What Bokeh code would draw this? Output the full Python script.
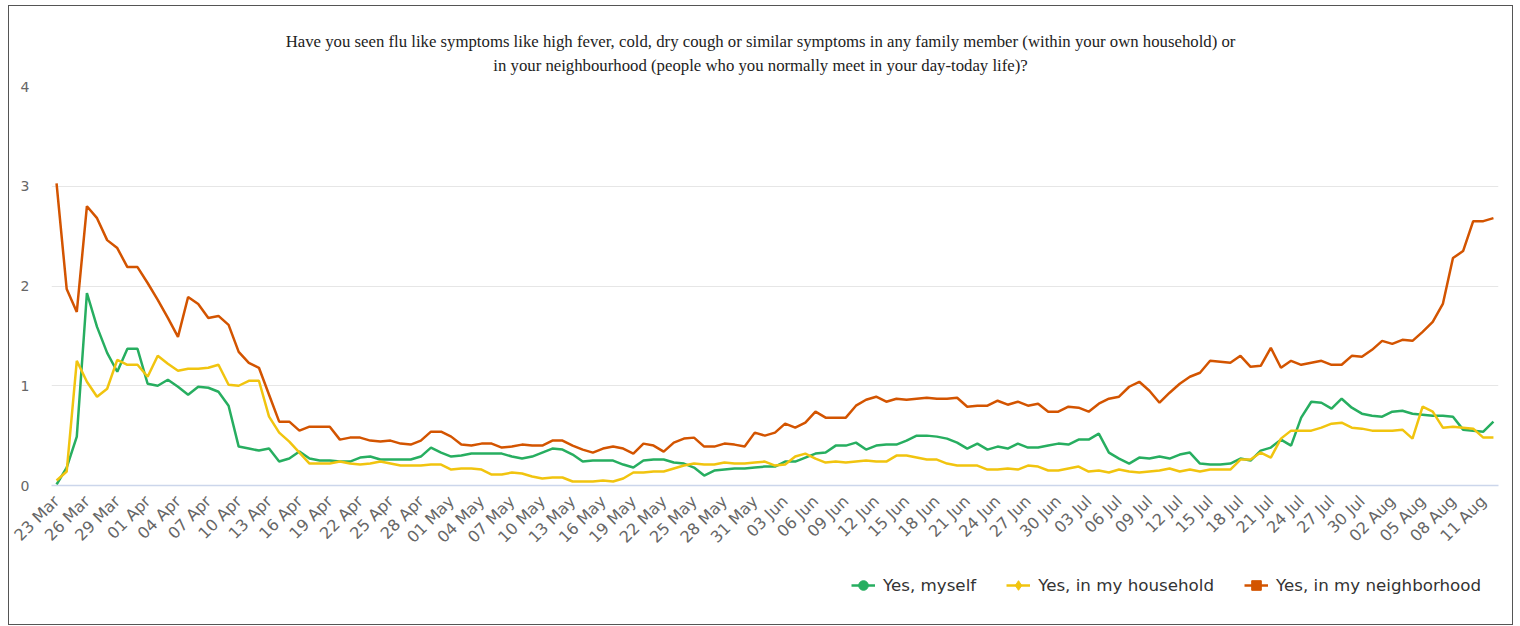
import math
import pandas as pd
from bokeh.plotting import figure
from bokeh.layouts import column
from bokeh.models import Range1d, FixedTicker, Legend, LegendItem, Label
from bokeh.embed import file_html
from bokeh.resources import INLINE

# ---- data -------------------------------------------------------------
dates = pd.date_range("2020-03-23", "2020-08-12", freq="D")
categories = [d.strftime("%d %b") for d in dates]

myself = [
    0.01, 0.18, 0.49, 1.93, 1.59, 1.33, 1.14, 1.37, 1.37, 1.02,
    1.00, 1.06, 0.99, 0.91, 0.99, 0.98, 0.94, 0.80, 0.39, 0.37,
    0.35, 0.37, 0.24, 0.27, 0.34, 0.27, 0.25, 0.25, 0.24, 0.24,
    0.28, 0.29, 0.26, 0.26, 0.26, 0.26, 0.29, 0.38, 0.33, 0.29,
    0.30, 0.32, 0.32, 0.32, 0.32, 0.29, 0.27, 0.29, 0.33, 0.37,
    0.36, 0.31, 0.24, 0.25, 0.25, 0.25, 0.21, 0.18, 0.25, 0.26,
    0.26, 0.23, 0.22, 0.18, 0.10, 0.15, 0.16, 0.17, 0.17, 0.18,
    0.19, 0.19, 0.24, 0.24, 0.28, 0.32, 0.33, 0.40, 0.40, 0.43,
    0.36, 0.40, 0.41, 0.41, 0.45, 0.50, 0.50, 0.49, 0.47, 0.43,
    0.37, 0.42, 0.36, 0.39, 0.37, 0.42, 0.38, 0.38, 0.40, 0.42,
    0.41, 0.46, 0.46, 0.52, 0.33, 0.27, 0.22, 0.28, 0.27, 0.29,
    0.27, 0.31, 0.33, 0.22, 0.21, 0.21, 0.22, 0.27, 0.25, 0.35,
    0.38, 0.46, 0.40, 0.68, 0.84, 0.83, 0.77, 0.87, 0.78, 0.72,
    0.70, 0.69, 0.74, 0.75, 0.72, 0.71, 0.70, 0.70, 0.69, 0.56,
    0.55, 0.54, 0.64,
]

household = [
    0.05, 0.14, 1.25, 1.04, 0.89, 0.97, 1.26, 1.21, 1.21, 1.09,
    1.30, 1.22, 1.15, 1.17, 1.17, 1.18, 1.21, 1.01, 1.00, 1.05,
    1.05, 0.69, 0.53, 0.44, 0.33, 0.22, 0.22, 0.22, 0.24, 0.22,
    0.21, 0.22, 0.24, 0.22, 0.20, 0.20, 0.20, 0.21, 0.21, 0.16,
    0.17, 0.17, 0.16, 0.11, 0.11, 0.13, 0.12, 0.09, 0.07, 0.08,
    0.08, 0.04, 0.04, 0.04, 0.05, 0.04, 0.07, 0.13, 0.13, 0.14,
    0.14, 0.17, 0.20, 0.22, 0.21, 0.21, 0.23, 0.22, 0.22, 0.23,
    0.24, 0.20, 0.21, 0.29, 0.32, 0.27, 0.23, 0.24, 0.23, 0.24,
    0.25, 0.24, 0.24, 0.30, 0.30, 0.28, 0.26, 0.26, 0.22, 0.20,
    0.20, 0.20, 0.16, 0.16, 0.17, 0.16, 0.20, 0.19, 0.15, 0.15,
    0.17, 0.19, 0.14, 0.15, 0.13, 0.16, 0.14, 0.13, 0.14, 0.15,
    0.17, 0.14, 0.16, 0.14, 0.16, 0.16, 0.16, 0.26, 0.26, 0.33,
    0.28, 0.47, 0.55, 0.55, 0.55, 0.58, 0.62, 0.63, 0.58, 0.57,
    0.55, 0.55, 0.55, 0.56, 0.47, 0.79, 0.74, 0.58, 0.59, 0.58,
    0.57, 0.48, 0.48,
]

neighborhood = [
    3.03, 1.97, 1.74, 2.80, 2.68, 2.46, 2.38, 2.19, 2.19, 2.03,
    1.86, 1.68, 1.49, 1.89, 1.82, 1.68, 1.70, 1.61, 1.34, 1.23,
    1.18, 0.91, 0.64, 0.64, 0.55, 0.59, 0.59, 0.59, 0.46, 0.48,
    0.48, 0.45, 0.44, 0.45, 0.42, 0.41, 0.45, 0.54, 0.54, 0.49,
    0.41, 0.40, 0.42, 0.42, 0.38, 0.39, 0.41, 0.40, 0.40, 0.45,
    0.45, 0.40, 0.36, 0.33, 0.37, 0.39, 0.37, 0.32, 0.42, 0.40,
    0.34, 0.43, 0.47, 0.48, 0.39, 0.39, 0.42, 0.41, 0.39, 0.53,
    0.50, 0.53, 0.62, 0.58, 0.63, 0.74, 0.68, 0.68, 0.68, 0.80,
    0.86, 0.89, 0.84, 0.87, 0.86, 0.87, 0.88, 0.87, 0.87, 0.88,
    0.79, 0.80, 0.80, 0.85, 0.81, 0.84, 0.80, 0.82, 0.74, 0.74,
    0.79, 0.78, 0.74, 0.82, 0.87, 0.89, 0.99, 1.04, 0.95, 0.83,
    0.93, 1.02, 1.09, 1.13, 1.25, 1.24, 1.23, 1.30, 1.19, 1.20,
    1.38, 1.18, 1.25, 1.21, 1.23, 1.25, 1.21, 1.21, 1.30, 1.29,
    1.36, 1.45, 1.42, 1.46, 1.45, 1.54, 1.64, 1.82, 2.28, 2.35,
    2.65, 2.65, 2.68,
]

series_names = ["Yes, myself", "Yes, in my household", "Yes, in my neighborhood"]
y_ticks = [0, 1, 2, 3, 4]
tick_idx = list(range(0, len(categories), 3))
tick_labels = {i: categories[i] for i in tick_idx}

title_lines = [
    "Have you seen flu like symptoms like high fever, cold, dry cough or similar symptoms "
    "in any family member (within your own household) or",
    "in your neighbourhood (people who you normally meet in your day-today life)?",
]

colors = ["#27ae60", "#f1c40f", "#d35400"]
markers = ["circle", "diamond", "square"]
all_series = [myself, household, neighborhood]

W = 1503
x = list(range(len(categories)))


def strip(height):
    f = figure(width=W, height=height, output_backend="svg", toolbar_location=None,
               x_axis_location=None, y_axis_location=None, min_border=0,
               x_range=Range1d(0, 1), y_range=Range1d(0, 1))
    f.outline_line_color = None
    f.grid.visible = False
    f.background_fill_color = "white"
    f.border_fill_color = "white"
    return f


# ---- title strip (centred on the whole chart box) ---------------------
t = strip(70)
for line, ypos in zip(title_lines, [0.50, 0.157]):
    t.add_layout(Label(x=0.49, y=ypos, text=line, text_align="center",
                       text_baseline="middle", text_font="Liberation Serif",
                       text_font_size="16.75px", text_color="#222222"))

# ---- main chart -------------------------------------------------------
p = figure(width=W, height=480, output_backend="svg", toolbar_location=None,
           x_range=Range1d(-0.5, len(categories) - 0.5), y_range=Range1d(0, 4),
           min_border_left=42, min_border_right=14, min_border_top=10,
           min_border_bottom=70)
p.outline_line_color = None
p.background_fill_color = "white"
p.border_fill_color = "white"
p.title.visible = False

p.xaxis.ticker = FixedTicker(ticks=tick_idx)
p.xaxis.major_label_overrides = tick_labels
p.xaxis.major_label_orientation = math.pi / 4
p.xaxis.major_label_text_font = "DejaVu Sans"
p.xaxis.major_label_text_font_size = "16px"
p.xaxis.major_label_text_color = "#666666"
p.xaxis.axis_line_color = "#ccd6eb"
p.xaxis.axis_line_width = 1.5
p.xaxis.major_tick_line_color = None
p.xaxis.minor_tick_line_color = None
p.xaxis.major_tick_in = 0
p.xaxis.major_tick_out = 0
p.xaxis.major_label_standoff = 13

p.yaxis.ticker = FixedTicker(ticks=y_ticks)
p.yaxis.major_label_text_font = "DejaVu Sans"
p.yaxis.major_label_text_font_size = "14px"
p.yaxis.major_label_text_color = "#666666"
p.yaxis.axis_line_color = None
p.yaxis.major_tick_line_color = None
p.yaxis.minor_tick_line_color = None
p.yaxis.major_tick_in = 0
p.yaxis.major_tick_out = 0
p.yaxis.major_label_standoff = 22

p.xgrid.visible = False
p.ygrid.ticker = FixedTicker(ticks=y_ticks)
p.ygrid.grid_line_color = "#e6e6e6"
p.ygrid.grid_line_width = 1

for vals, col in zip(all_series, colors):
    p.line(x, vals, line_color=col, line_width=2.5)

# ---- legend strip (same series, view range kept off the data) ---------
q = strip(68)
q.x_range = Range1d(-0.5, len(categories) - 0.5)
q.y_range = Range1d(10, 11)

items = []
for name, vals, col, mk in zip(series_names, all_series, colors, markers):
    lr = q.line(x, vals, line_color=col, line_width=2.5)
    mr = q.scatter(x, vals, marker=mk, size=10, fill_color=col, line_color=col)
    items.append(LegendItem(label=name, renderers=[lr, mr]))

legend = Legend(items=items, orientation="horizontal", location=(800, 26),
                background_fill_alpha=0, border_line_color=None,
                label_text_font="DejaVu Sans", label_text_font_size="16.7px",
                label_text_color="#333333", glyph_width=24, glyph_height=26,
                label_standoff=8, spacing=30, padding=0, margin=0)
q.add_layout(legend)

layout = column(t, p, q, spacing=0,
                styles={"margin-left": "8px", "margin-top": "5px",
                        "border": "1px solid #555555", "background": "white"})

open("out.html", "w").write(file_html(layout, INLINE))
